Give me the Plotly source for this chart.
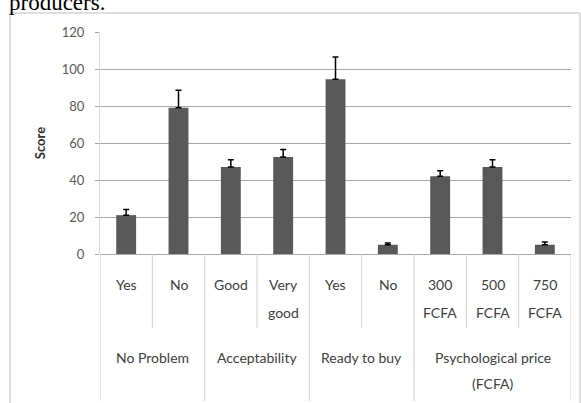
import plotly.graph_objects as go

groups = ["No Problem", "No Problem", "Acceptability", "Acceptability",
          "Ready to buy", "Ready to buy",
          "Psychological price\n(FCFA)", "Psychological price\n(FCFA)", "Psychological price\n(FCFA)"]
subs = ["Yes", "No", "Good", "Very\ngood", "Yes", "No", "300\nFCFA", "500\nFCFA", "750\nFCFA"]
scores = [21, 79, 47, 52.5, 94.5, 5, 42, 47, 5]
errors = [3, 9.5, 4, 4, 12, 1, 3, 4, 1.5]
yticks = [0, 20, 40, 60, 80, 100, 120]

PLOT_H = 222.0
PLOT_W = 471.0
def py(px_below):  # pixels below the plot bottom -> paper y
    return -px_below / PLOT_H

n = len(scores)
xs = list(range(n))

fig = go.Figure()
fig.add_trace(go.Bar(
    x=xs, y=scores,
    marker=dict(color="#595959", line=dict(width=0)),
    width=0.38,
    error_y=dict(type="data", symmetric=False, array=errors,
                 arrayminus=[0] * n, color="black",
                 thickness=1.5, width=3),
))

label_font = dict(family="Lato", size=14, color="#404040")
LINE = 28

# sub-category labels
for i, s in enumerate(subs):
    for k, line in enumerate(s.split("\n")):
        fig.add_annotation(text=line, x=i, xref="x", yref="paper",
                           y=py(30 + k * LINE), yanchor="middle", xanchor="center",
                           showarrow=False, font=label_font)

# group labels and dividers
bounds = []
start = 0
for i in range(1, n + 1):
    if i == n or groups[i] != groups[start]:
        center = (start + i - 1) / 2
        for k, line in enumerate(groups[start].split("\n")):
            fig.add_annotation(text=line, x=center, xref="x", yref="paper",
                               y=py(103 + k * 26), yanchor="middle", xanchor="center",
                               showarrow=False, font=label_font)
        bounds.append(i - 0.5)
        start = i
group_bounds = [-0.5] + bounds
for i in range(n + 1):
    b = i - 0.5
    length = 147 if b in group_bounds else 74
    fig.add_shape(type="line", xref="x", yref="paper", x0=b, x1=b,
                  y0=0, y1=py(length), line=dict(color="#cfcfcf", width=1))

fig.update_layout(
    width=581, height=403,
    margin=dict(l=100, r=10, t=32, b=149, autoexpand=False),
    paper_bgcolor="white", plot_bgcolor="white",
    font=dict(family="Lato", size=12, color="#404040"),
    showlegend=False,
    xaxis=dict(range=[-0.5, n - 0.5], showticklabels=False, showgrid=False,
               zeroline=False, showline=False, ticks="", automargin=False),
    yaxis=dict(
        range=[0, 120], tickvals=yticks, automargin=False,
        showgrid=True, gridcolor="#a8a8a8", gridwidth=1,
        zeroline=True, zerolinecolor="#a8a8a8", zerolinewidth=1,
        showline=True, linecolor="#d8d8d8", linewidth=1,
        ticks="outside", ticklen=4, tickcolor="#a8a8a8",
        ticklabelstandoff=8,
        tickfont=dict(family="Lato", size=13, color="#595959"),
        title=dict(text="<b>Score</b>", font=dict(family="Lato", size=13, color="#303030"), standoff=13),
    ),
)

# outer chart frame
fig.add_shape(type="rect", xref="paper", yref="paper",
              x0=-90 / PLOT_W, x1=480 / PLOT_W, y0=py(160), y1=(254 - 13) / PLOT_H,
              line=dict(color="#bdbdbd", width=1), layer="below")

fig.add_annotation(text="producers.", xref="paper", yref="paper",
                   x=-93 / PLOT_W, y=(254 - 17) / PLOT_H, xanchor="left", yanchor="bottom",
                   showarrow=False,
                   font=dict(family="Liberation Serif", size=23, color="black"))

fig.write_html("out.html", config={"displayModeBar": False},
               post_script="document.body.style.margin='0';document.body.style.overflow='hidden';")
